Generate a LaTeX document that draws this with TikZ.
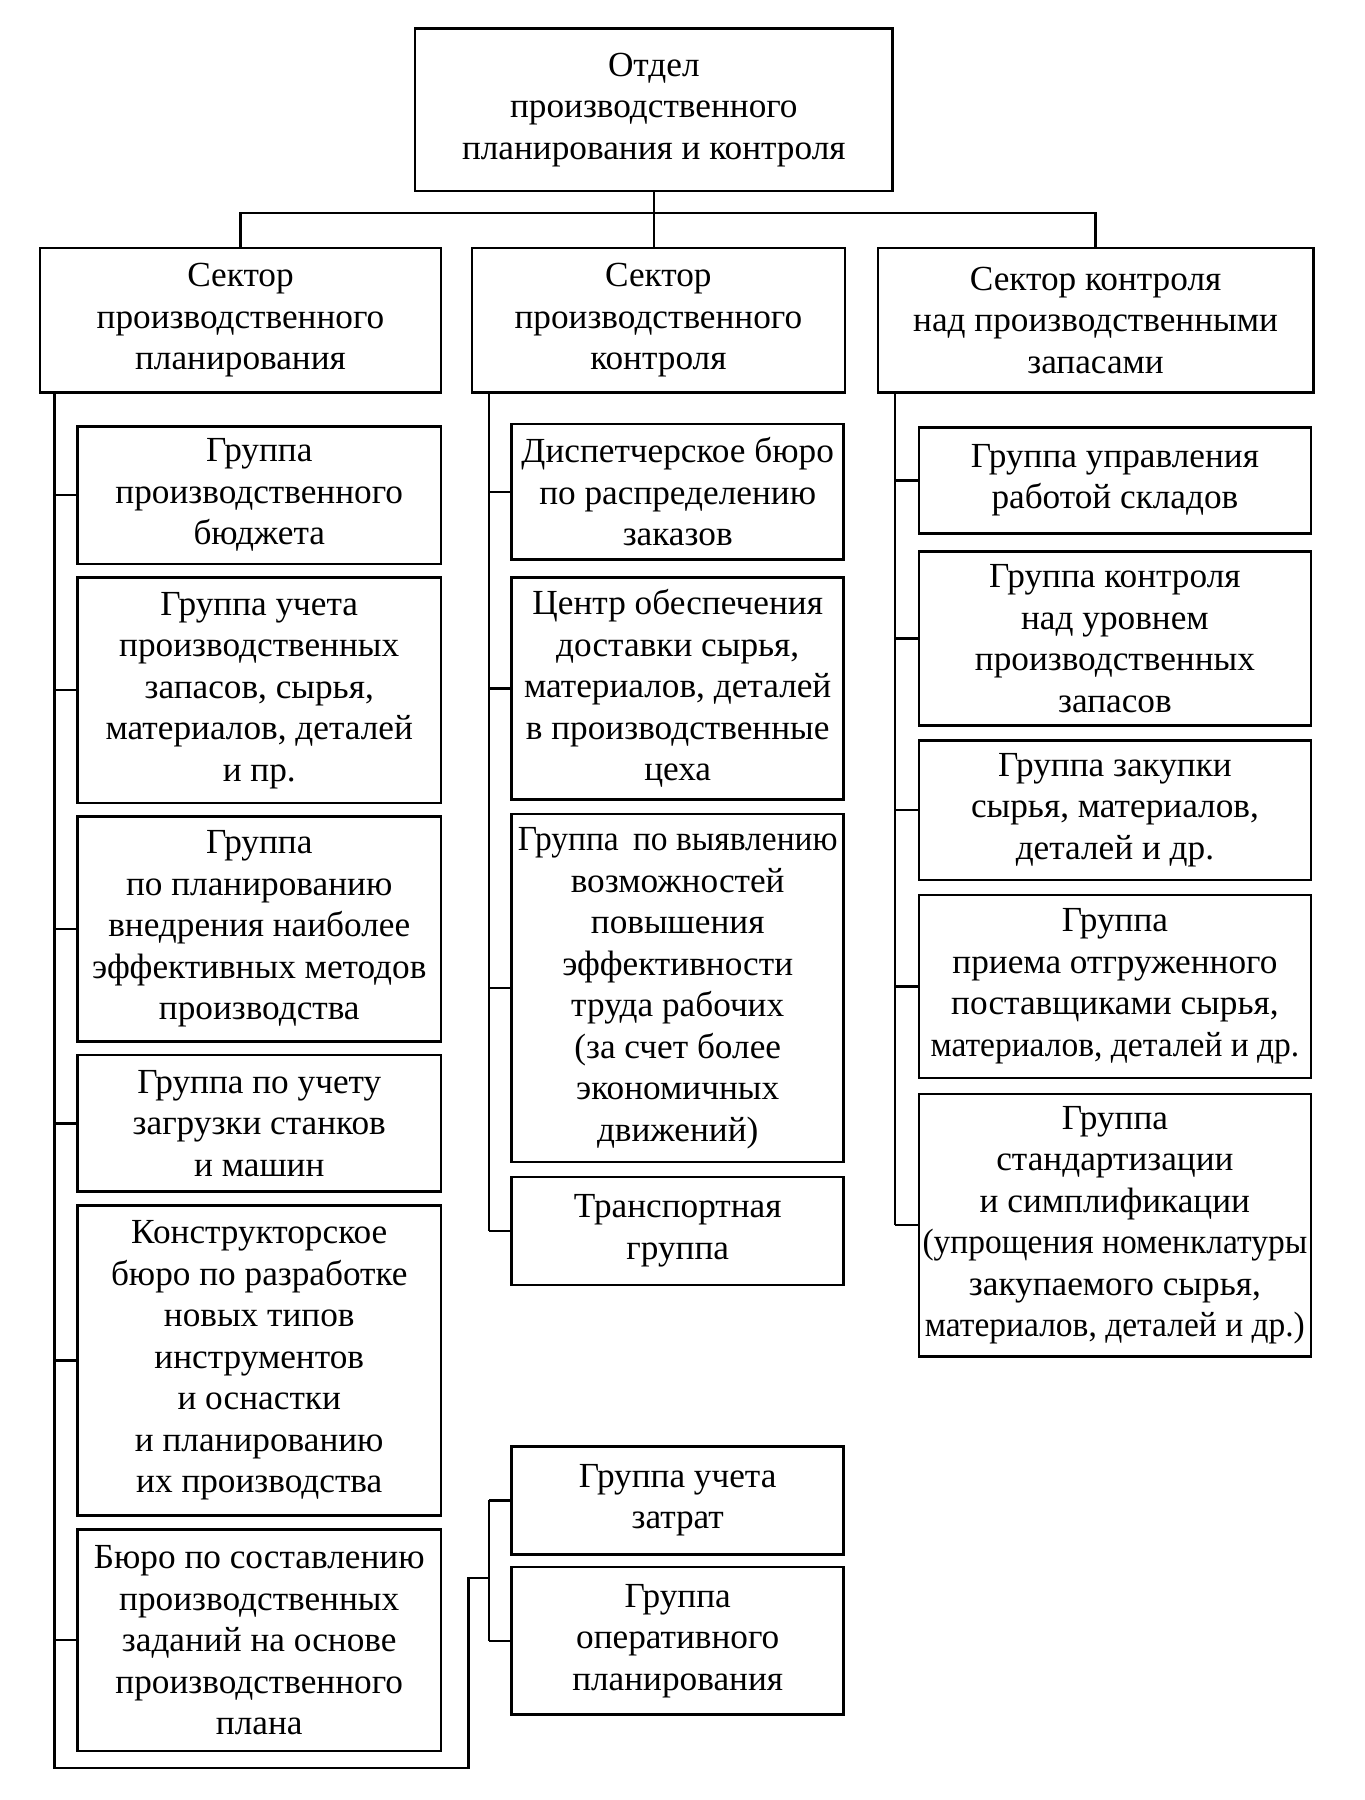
\documentclass[tikz,border=0pt]{standalone}
\usepackage{fontspec}
\setmainfont{Liberation Serif}
\newfontfamily\condfont[FakeStretch=0.95]{Liberation Serif}
\newcommand{\cnd}[1]{{\condfont #1}}
\begin{document}
\begin{tikzpicture}[x=1pt,y=-1pt,
  box/.style={draw, line width=2.2pt, align=center, inner sep=0pt,
    font=\fontsize{31}{36.5}\selectfont},
  conn/.style={line width=2pt}]
\useasboundingbox (0,0) rectangle (1200,1583);
% top
\node[box, minimum width=420, minimum height=143] (top) at (575,96.5) {Отдел\\производственного\\планирования и контроля};
% sectors
\node[box, minimum width=353, minimum height=127] (s1) at (211.5,281.5) {Сектор\\производственного\\планирования};
\node[box, minimum width=328, minimum height=127] (s2) at (579,281.5) {Сектор\\производственного\\контроля};
\node[box, minimum width=383, minimum height=127] (s3) at (963.5,281.5) {Сектор контроля\\над производственными\\запасами};
% left column
\node[box, minimum width=320, minimum height=121] (l1) at (228,435.5) {Группа\\производственного\\бюджета};
\node[box, minimum width=320, minimum height=198] (l2) at (228,607) {Группа учета\\производственных\\запасов, сырья,\\материалов, деталей\\и пр.};
\node[box, minimum width=320, minimum height=198] (l3) at (228,817) {Группа\\по планированию\\внедрения наиболее\\эффективных методов\\производства};
\node[box, minimum width=320, minimum height=120] (l4) at (228,988) {Группа по учету\\загрузки станков\\и машин};
\node[box, minimum width=320, minimum height=273] (l5) at (228,1196.5) {Конструкторское\\бюро по разработке\\новых типов\\инструментов\\и оснастки\\и планированию\\их производства};
\node[box, minimum width=320, minimum height=195] (l6) at (228,1442.5) {Бюро по составлению\\производственных\\заданий на основе\\производственного\\плана};
% middle column
\node[box, minimum width=292, minimum height=119] (m1) at (596,432.5) {Диспетчерское бюро\\по распределению\\заказов};
\node[box, minimum width=292, minimum height=195] (m2) at (596,605.5) {Центр обеспечения\\доставки сырья,\\материалов, деталей\\в производственные\\цеха};
\node[box, minimum width=292, minimum height=306] (m3) at (596,869) {\cnd{Группа\, по выявлению}\\возможностей\\повышения\\эффективности\\труда рабочих\\(за счет более\\экономичных\\движений)};
\node[box, minimum width=292, minimum height=95] (m4) at (596,1082.5) {Транспортная\\группа};
\node[box, minimum width=292, minimum height=95] (m5) at (596,1319.5) {Группа учета\\затрат};
\node[box, minimum width=292, minimum height=130] (m6) at (596,1443) {Группа\\оперативного\\планирования};
% right column
\node[box, minimum width=345, minimum height=93] (r1) at (980.5,422.5) {Группа управления\\работой складов};
\node[box, minimum width=345, minimum height=153] (r2) at (980.5,561.5) {Группа контроля\\над уровнем\\производственных\\запасов};
\node[box, minimum width=345, minimum height=123] (r3) at (980.5,712.5) {Группа закупки\\сырья, материалов,\\деталей и др.};
\node[box, minimum width=345, minimum height=161] (r4) at (980.5,867.5) {Группа\\приема отгруженного\\поставщиками сырья,\\\cnd{материалов, деталей и др.}};
\node[box, minimum width=345, minimum height=231] (r5) at (980.5,1077.5) {Группа\\стандартизации\\и симплификации\\\cnd{(упрощения номенклатуры}\\закупаемого сырья,\\\cnd{материалов, деталей и др.)}};
% top connectors
\coordinate (bus) at (575,187);
\draw[conn] (top.south) -- (top.south |- s2.north);
\draw[conn] (s1.north) -- (s1.north |- bus) -- (s3.north |- bus) -- (s3.north);
% spines
\coordinate (sp1) at (48,345);
\coordinate (sp2) at (430,345);
\coordinate (sp3) at (787,345);
\coordinate (lb) at (48,1555);
\coordinate (rb) at (412,1555);
\coordinate (jn) at (412,1388);
\coordinate (jm) at (430,1388);
\draw[conn] (sp1) -- (lb) -- (rb) -- (jn) -- (jm);
\foreach \n in {l1,l2,l3,l4,l5,l6} \draw[conn] (\n.west) -- (\n.west -| sp1);
\draw[conn] (sp2) -- (sp2 |- m4.west);
\foreach \n in {m1,m2,m3,m4} \draw[conn] (\n.west) -- (\n.west -| sp2);
\draw[conn] (m5.west -| jm) -- (m6.west -| jm);
\foreach \n in {m5,m6} \draw[conn] (\n.west) -- (\n.west -| jm);
\draw[conn] (sp3) -- (sp3 |- r5.west);
\foreach \n in {r1,r2,r3,r4,r5} \draw[conn] (\n.west) -- (\n.west -| sp3);
\end{tikzpicture}
\end{document}
